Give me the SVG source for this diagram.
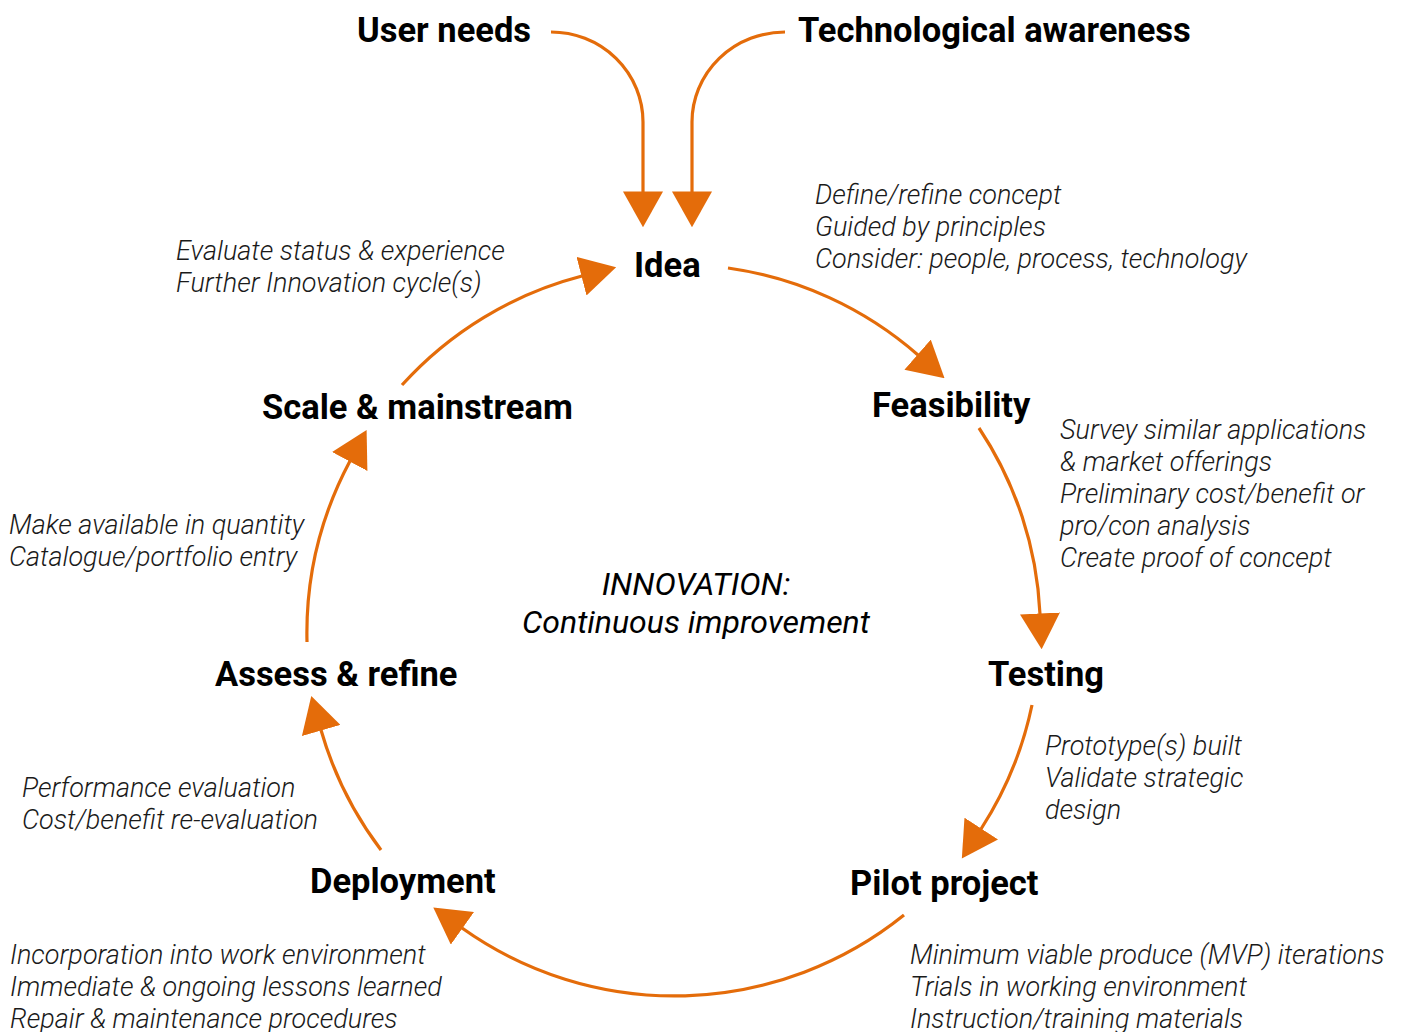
<svg xmlns="http://www.w3.org/2000/svg" width="1402" height="1032" viewBox="0 0 1402 1032">
<style>
.lbl{font-family:Roboto,"Liberation Sans",sans-serif;font-weight:700;font-size:34.5px;fill:#000}
.dsc{font-family:Roboto,"Liberation Sans",sans-serif;font-weight:300;font-style:italic;font-size:27px;fill:#1a1a1a}
.ctr{font-family:Roboto,"Liberation Sans",sans-serif;font-weight:400;font-style:italic;font-size:32px;fill:#000;text-anchor:middle}
.arr{fill:none;stroke:#E46C0A;stroke-width:3.2}
</style>
<defs>
<marker id="ah" markerUnits="userSpaceOnUse" markerWidth="36" markerHeight="40" viewBox="0 0 34 38" refX="0.5" refY="19" orient="auto">
<path d="M0,0 L34,19 L0,38 z" fill="#E46C0A"/>
</marker>
</defs>
<rect width="1402" height="1032" fill="#fff"/>
<g id="connectors">
<path class="arr" marker-end="url(#ah)" d="M551,32 A92,90 0 0 1 643,122 L643,192"/>
<path class="arr" marker-end="url(#ah)" d="M785,32 A93,90 0 0 0 692,122 L692,192"/>
<path class="arr" marker-end="url(#ah)" d="M728,268 A366,366 0 0 1 918,355"/>
<path class="arr" marker-end="url(#ah)" d="M979,428 A366,366 0 0 1 1040,614"/>
<path class="arr" marker-end="url(#ah)" d="M1032,705 A366,366 0 0 1 981,829"/>
<path class="arr" marker-end="url(#ah)" d="M904,915 A366,366 0 0 1 462,928"/>
<path class="arr" marker-end="url(#ah)" d="M381,850 A366,366 0 0 1 321,730"/>
<path class="arr" marker-end="url(#ah)" d="M307,642 A366,366 0 0 1 350,461"/>
<path class="arr" marker-end="url(#ah)" d="M402,385 A366,366 0 0 1 582,276"/>
</g>
<g id="user-needs"><text class="lbl" x="357" y="42">User needs</text></g>
<g id="tech-awareness"><text class="lbl" x="798" y="42">Technological awareness</text></g>
<g id="idea">
<text class="lbl" x="634" y="277">Idea</text>
<text class="dsc" x="815" y="204">Define/refine concept</text>
<text class="dsc" x="815" y="236">Guided by principles</text>
<text class="dsc" x="815" y="268">Consider: people, process, technology</text>
</g>
<g id="feasibility">
<text class="lbl" x="872" y="417">Feasibility</text>
<text class="dsc" x="1060" y="439">Survey similar applications</text>
<text class="dsc" x="1060" y="471">&amp; market offerings</text>
<text class="dsc" x="1060" y="503">Preliminary cost/benefit or</text>
<text class="dsc" x="1060" y="535">pro/con analysis</text>
<text class="dsc" x="1060" y="567">Create proof of concept</text>
</g>
<g id="testing">
<text class="lbl" x="988" y="686">Testing</text>
<text class="dsc" x="1045" y="755">Prototype(s) built</text>
<text class="dsc" x="1045" y="787">Validate strategic</text>
<text class="dsc" x="1045" y="819">design</text>
</g>
<g id="pilot-project">
<text class="lbl" x="850" y="895">Pilot project</text>
<text class="dsc" x="910" y="964">Minimum viable produce (MVP) iterations</text>
<text class="dsc" x="910" y="996">Trials in working environment</text>
<text class="dsc" x="910" y="1028">Instruction/training materials</text>
</g>
<g id="deployment">
<text class="lbl" x="310" y="893">Deployment</text>
<text class="dsc" x="10" y="964">Incorporation into work environment</text>
<text class="dsc" x="10" y="996">Immediate &amp; ongoing lessons learned</text>
<text class="dsc" x="10" y="1028">Repair &amp; maintenance procedures</text>
</g>
<g id="assess-refine">
<text class="lbl" x="215" y="686">Assess &amp; refine</text>
<text class="dsc" x="22" y="797">Performance evaluation</text>
<text class="dsc" x="22" y="829">Cost/benefit re-evaluation</text>
</g>
<g id="scale-mainstream">
<text class="lbl" x="262" y="419">Scale &amp; mainstream</text>
<text class="dsc" x="9" y="534">Make available in quantity</text>
<text class="dsc" x="9" y="566">Catalogue/portfolio entry</text>
</g>
<g id="evaluate">
<text class="dsc" x="176" y="260">Evaluate status &amp; experience</text>
<text class="dsc" x="176" y="292">Further Innovation cycle(s)</text>
</g>
<g id="center">
<text class="ctr" x="696" y="595">INNOVATION:</text>
<text class="ctr" x="696" y="633">Continuous improvement</text>
</g>
</svg>
